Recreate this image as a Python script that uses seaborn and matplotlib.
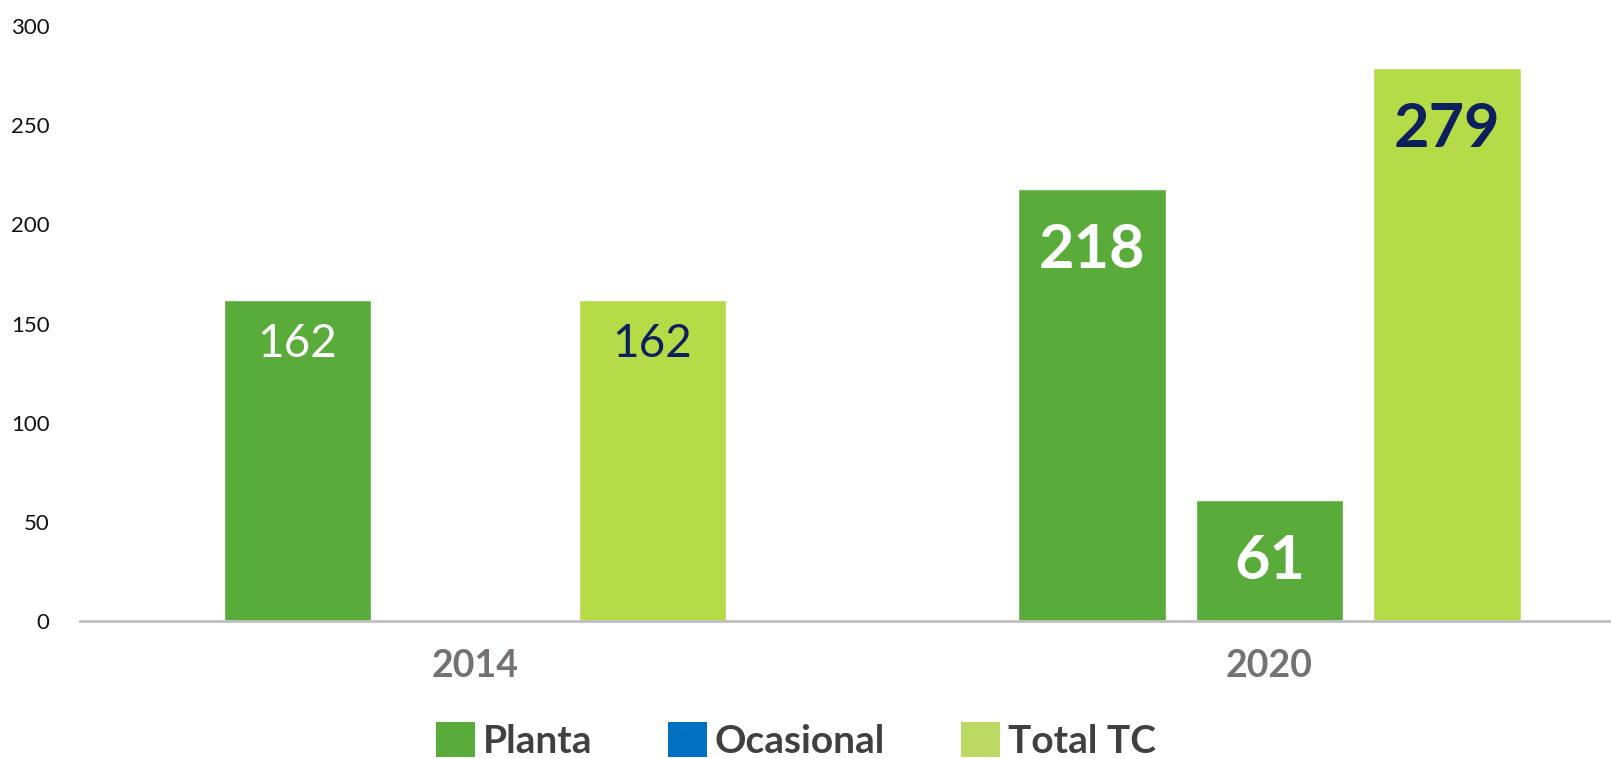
import numpy as np
import pandas as pd
import matplotlib
matplotlib.use("Agg")
import matplotlib.pyplot as plt
from matplotlib.patches import Patch
import seaborn as sns

# ── data
years = ["2014", "2020"]
series = ["Planta", "Ocasional", "Total TC"]
planta = [162, 218]
ocasional = [np.nan, 61]
total_tc = [162, 279]
y_ticks = [0, 50, 100, 150, 200, 250, 300]

rows = []
for name, vals in zip(series, [planta, ocasional, total_tc]):
    for yr, v in zip(years, vals):
        if not np.isnan(v):
            rows.append({"year": yr, "serie": name, "value": v})
df = pd.DataFrame(rows)

# ── style
c_planta = "#59AC3A"
c_ocas = "#0070C0"
c_total = "#B5DC46"
navy = "#0D1F5C"
sns.set_style("white")
plt.rcParams["font.family"] = ["Lato", "DejaVu Sans"]

fig = plt.figure(figsize=(16.11, 7.59), dpi=100)
ax = fig.add_axes([80 / 1611, 138 / 759, 1531 / 1611, 595 / 759])

sns.barplot(data=df, x="year", y="value", hue="serie", order=years,
            hue_order=series, palette=[c_planta, c_ocas, c_total],
            width=0.67, gap=0.17, saturation=1, legend=False, ax=ax)

# label each bar; the 2020 "Ocasional" bar is drawn in the Planta green
for serie, cont in zip(series, ax.containers):
    for bar in cont:
        h = bar.get_height()
        if np.isnan(h):
            continue
        xc = bar.get_x() + bar.get_width() / 2
        yr = years[int(round(xc))]
        if serie == "Ocasional":
            bar.set_facecolor(c_planta)
        bold = yr == "2020"
        col = navy if serie == "Total TC" else "white"
        off = -44 if bold else -32
        ax.annotate(f"{int(h)}", (xc, h), xytext=(0, off), textcoords="offset points",
                    ha="center", va="center", color=col,
                    fontsize=44 if bold else 33,
                    fontweight="bold" if bold else "normal")

ax.set_xlim(-0.4966, 1.4297)
ax.set_ylim(0, 300)
ax.set_yticks(y_ticks)
ax.set_xlabel("")
ax.set_ylabel("")
ax.tick_params(axis="y", labelsize=16, pad=22, length=0, labelcolor="#111111")
ax.tick_params(axis="x", labelsize=27, pad=20, length=0, labelcolor="#767171")
for lbl in ax.get_xticklabels():
    lbl.set_fontweight("bold")

for s in ["top", "right", "left"]:
    ax.spines[s].set_visible(False)
ax.spines["bottom"].set_color("#BFBFBF")
ax.spines["bottom"].set_linewidth(2)

handles = [Patch(facecolor=c, edgecolor="none") for c in [c_planta, c_ocas, "#BCD963"]]
leg = fig.legend(handles, series, loc="center", bbox_to_anchor=(0.494, 0.024),
                 ncol=3, frameon=False, handlelength=1.0, handleheight=1.0,
                 handletextpad=0.2, columnspacing=1.95,
                 prop={"size": 28, "weight": "bold"})
for t in leg.get_texts():
    t.set_color("#404040")

fig.savefig("out.png", dpi=100)
